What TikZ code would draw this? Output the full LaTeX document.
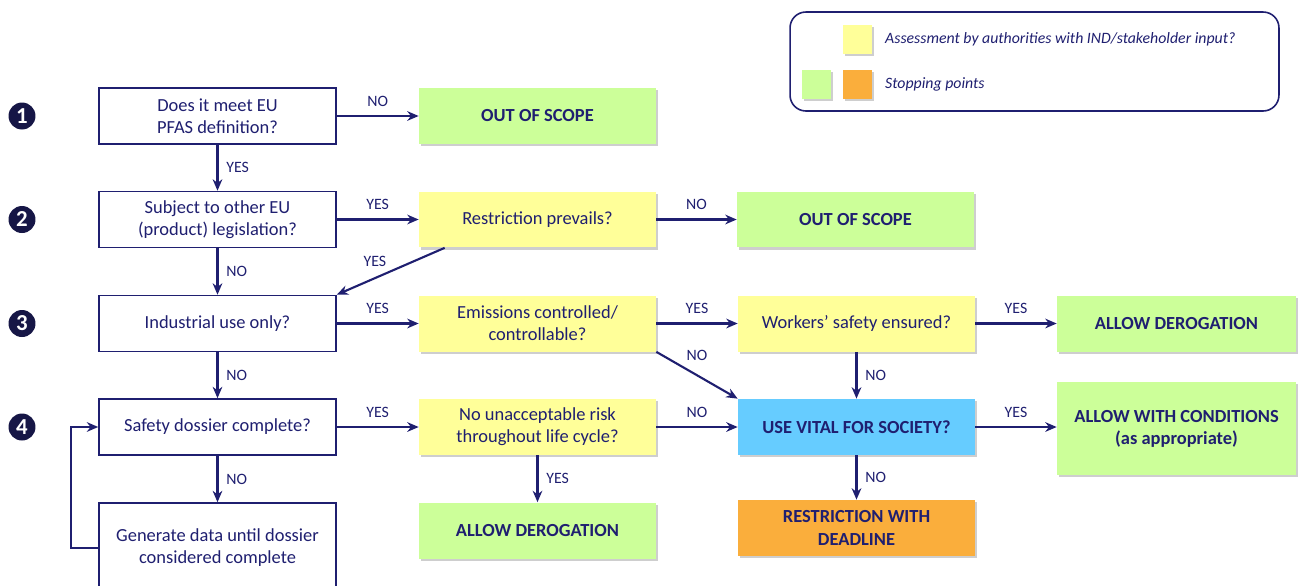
\documentclass[tikz,border=0pt]{standalone}
\usepackage{fontspec}
\setmainfont{Carlito}
\usetikzlibrary{arrows.meta,shadows}
\definecolor{pfasnavy}{HTML}{1F1F70}
\definecolor{stepnavy}{HTML}{161646}
\definecolor{assessyellow}{HTML}{FFFF99}
\definecolor{stopgreen}{HTML}{CCFF99}
\definecolor{vitalblue}{HTML}{66CCFF}
\definecolor{stoporange}{HTML}{FAAE3C}

\begin{document}
\begin{tikzpicture}[x=0.02cm,y=-0.02cm,
  every node/.style={text=pfasnavy},
  box/.style={minimum width=4.74cm,minimum height=1.12cm,align=center,
    font=\fontsize{10.5}{12.6}\selectfont},
  shaded/.style={drop shadow={shadow xshift=1.3pt,shadow yshift=-1.3pt,
    opacity=0.35,fill=black!55}},
  question/.style={box,draw=pfasnavy,line width=0.9pt,fill=white},
  assess/.style={box,fill=assessyellow,shaded},
  stopbox/.style={box,fill=stopgreen,shaded,font=\fontsize{10.5}{12.6}\selectfont\bfseries},
  vital/.style={box,fill=vitalblue,shaded,font=\fontsize{10.5}{12.6}\selectfont\bfseries},
  deadline/.style={box,fill=stoporange,shaded,font=\fontsize{10.5}{12.6}\selectfont\bfseries},
  stepnum/.style={circle,fill=stepnavy,text=white,inner sep=0pt,minimum size=0.54cm,
    font=\fontsize{13}{13}\selectfont\bfseries},
  swatch/.style={minimum size=0.58cm,inner sep=0pt,shaded},
  legtext/.style={anchor=west,font=\fontsize{9}{10.8}\selectfont\itshape},
  lbl/.style={inner sep=1pt,font=\fontsize{9}{10.8}\selectfont},
  flow/.style={pfasnavy,line width=1.2pt,-{Stealth[length=6.5pt,width=5.5pt]}}]
  \useasboundingbox (0,0) rectangle (1301,585);

  % Legend
  \node[draw=pfasnavy,line width=0.9pt,rounded corners=9pt,minimum width=9.78cm,
    minimum height=1.98cm] (legend) at (1034.5,61.5) {};
  \node[swatch,fill=assessyellow] (swyellow) at (857.5,39.5) {};
  \node[swatch,fill=stopgreen] (swgreen) at (816.5,84) {};
  \node[swatch,fill=stoporange] (sworange) at (857.5,84) {};
  \node[legtext] (legassess) at (879,39) {Assessment by authorities with IND/stakeholder input?};
  \node[legtext] (legstop) at (879,84) {Stopping points};

  % Step numbers
  \node[stepnum] (s1) at (22,116) {1};
  \node[stepnum] (s2) at (22,219.5) {2};
  \node[stepnum] (s3) at (22,323.5) {3};
  \node[stepnum] (s4) at (22,427) {4};

  % Left column
  \node[question] (q1) at (217.5,116) {Does it meet EU\\PFAS definition?};
  \node[question] (q2) at (217.5,219.5) {Subject to other EU\\(product) legislation?};
  \node[question] (q3) at (217.5,323.5) {Industrial use only?};
  \node[question] (q4) at (217.5,427) {Safety dossier complete?};
  \node[question,minimum height=1.8cm] (gen) at (217.5,548) {Generate data until dossier\\considered complete};

  % Assessments and outcomes
  \node[stopbox] (oos1) at (537.5,116) {OUT OF SCOPE};
  \node[assess] (prevails) at (537.5,219.5) {Restriction prevails?};
  \node[stopbox] (oos2) at (855.5,219.5) {OUT OF SCOPE};
  \node[assess] (emis) at (537.5,323.5) {Emissions controlled/\\controllable?};
  \node[assess] (workers) at (856.5,323.5) {Workers’ safety ensured?};
  \node[stopbox,minimum width=4.78cm] (derog1) at (1176.5,323.5) {ALLOW DEROGATION};
  \node[assess] (risk) at (537.5,427) {No unacceptable risk\\throughout life cycle?};
  \node[vital] (vital) at (856.5,427) {USE VITAL FOR SOCIETY?};
  \node[stopbox,minimum width=4.78cm,minimum height=1.86cm] (cond) at (1176.5,428.5)
    {ALLOW WITH CONDITIONS\\(as appropriate)};
  \node[stopbox] (derog2) at (537.5,530.5) {ALLOW DEROGATION};
  \node[deadline] (restrict) at (856.5,528) {RESTRICTION WITH\\DEADLINE};

  % Connectors
  \draw[flow] (q1) -- node[lbl,above=4pt] {NO} (oos1);
  \draw[flow] (q1) -- node[lbl,right=3.5pt] {YES} (q2);
  \draw[flow] (q2) -- node[lbl,above=4pt] {YES} (prevails);
  \draw[flow] (prevails) -- node[lbl,above=4pt] {NO} (oos2);
  \draw[flow] ([xshift=0.52cm]prevails.south west) -- node[lbl,above left=1pt] {YES} (q3.north east);
  \draw[flow] (q2) -- node[lbl,right=3.5pt] {NO} (q3);
  \draw[flow] (q3) -- node[lbl,above=4pt] {YES} (emis);
  \draw[flow] (emis) -- node[lbl,above=4pt] {YES} (workers);
  \draw[flow] (emis.south east) -- node[lbl,above=7pt] {NO} (vital.north west);
  \draw[flow] (workers) -- node[lbl,above=4pt] {YES} (derog1);
  \draw[flow] (workers) -- node[lbl,right=3.5pt] {NO} (vital);
  \draw[flow] (q3) -- node[lbl,right=3.5pt] {NO} (q4);
  \draw[flow] (q4) -- node[lbl,above=4pt] {YES} (risk);
  \draw[flow] (risk) -- node[lbl,above=4pt] {NO} (vital);
  \draw[flow] (vital.east) -- node[lbl,above=4pt] {YES} (vital.east -| cond.west);
  \draw[flow] (risk) -- node[lbl,right=3.5pt] {YES} (derog2);
  \draw[flow] (vital) -- node[lbl,right=3.5pt] {NO} (restrict);
  \draw[flow] (q4) -- node[lbl,right=3.5pt] {NO} (gen);
  \draw[flow] (gen.west) -- ++(-27,0) |- (q4.west);
\end{tikzpicture}
\end{document}
